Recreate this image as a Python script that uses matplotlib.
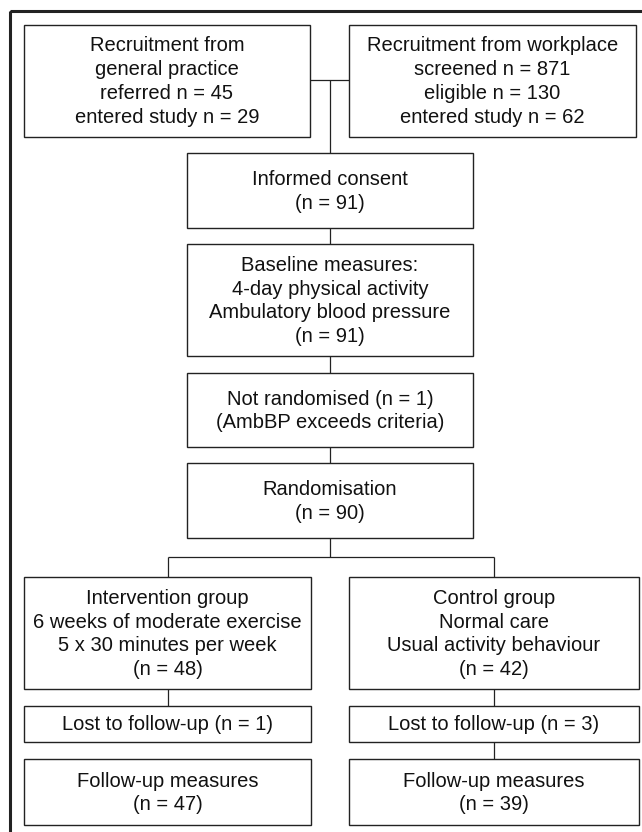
import matplotlib.pyplot as plt
from matplotlib.patches import Rectangle

# box texts (flow chart content)
gp_text = ["Recruitment from", "general practice", "referred n = 45", "entered study n = 29"]
work_text = ["Recruitment from workplace", "screened n = 871", "eligible n = 130", "entered study n = 62"]
consent_text = ["Informed consent", "(n = 91)"]
baseline_text = ["Baseline measures:", "4-day physical activity", "Ambulatory blood pressure", "(n = 91)"]
notrand_text = ["Not randomised (n = 1)", "(AmbBP exceeds criteria)"]
rand_text = ["Randomisation", "(n = 90)"]
interv_text = ["Intervention group", "6 weeks of moderate exercise", "5 x 30 minutes per week", "(n = 48)"]
control_text = ["Control group", "Normal care", "Usual activity behaviour", "(n = 42)"]
lost_left_text = ["Lost to follow-up (n = 1)"]
lost_right_text = ["Lost to follow-up (n = 3)"]
fu_left_text = ["Follow-up measures", "(n = 47)"]
fu_right_text = ["Follow-up measures", "(n = 39)"]

# layout in pixel units: (x0, x1, y0, y1), y grows downward
L = (24, 311)
R = (349, 639)
C = (187, 473)
boxes = {
    "gp": ((24, 310, 24.5, 137), gp_text),
    "work": ((349, 636, 24.5, 137), work_text),
    "consent": (C + (153, 228), consent_text),
    "baseline": (C + (244, 356), baseline_text),
    "notrand": (C + (373, 447), notrand_text),
    "rand": (C + (463, 538), rand_text),
    "interv": (L + (577, 689), interv_text),
    "control": (R + (577, 689), control_text),
    "lost_l": (L + (706, 742), lost_left_text),
    "lost_r": (R + (706, 742), lost_right_text),
    "fu_l": (L + (759, 825), fu_left_text),
    "fu_r": (R + (759, 825), fu_right_text),
}

plt.rcParams['font.family'] = ['Liberation Sans', 'DejaVu Sans']

fig = plt.figure(figsize=(6.42, 8.32), dpi=100)
ax = fig.add_axes([0, 0, 1, 1])
ax.set_xlim(0, 642)
ax.set_ylim(832, 0)
ax.axis('off')

edge = '#222222'

# outer frame (cut off at right and bottom)
ax.add_patch(Rectangle((9.5, 11), 700, 900, fill=False, lw=2.2, ec=edge))

for (x0, x1, y0, y1), lines in boxes.values():
    ax.add_patch(Rectangle((x0, y0), x1 - x0, y1 - y0, fill=False, lw=1.0, ec=edge))
    ax.text((x0 + x1) / 2, (y0 + y1) / 2 + 1, "\n".join(lines), ha='center', va='center',
            multialignment='center', fontsize=14.5, linespacing=1.33, color='#111111')

def seg(xs, ys):
    ax.plot(xs, ys, color=edge, lw=0.9, solid_capstyle='butt')

cx = 330
lx = (L[0] + L[1]) / 2
rx = (R[0] + R[1]) / 2
# top join
seg([310, 349], [80, 80])
seg([cx, cx], [80, 153])
# center column
seg([cx, cx], [228, 244])
seg([cx, cx], [356, 373])
seg([cx, cx], [447, 463])
seg([cx, cx], [538, 557])
seg([lx, rx], [557, 557])
seg([lx, lx], [557, 577])
seg([rx, rx], [557, 577])
# arms
seg([lx, lx], [689, 706])
seg([rx, rx], [689, 706])
seg([rx, rx], [742, 759])

fig.savefig('out.png', dpi=100)
